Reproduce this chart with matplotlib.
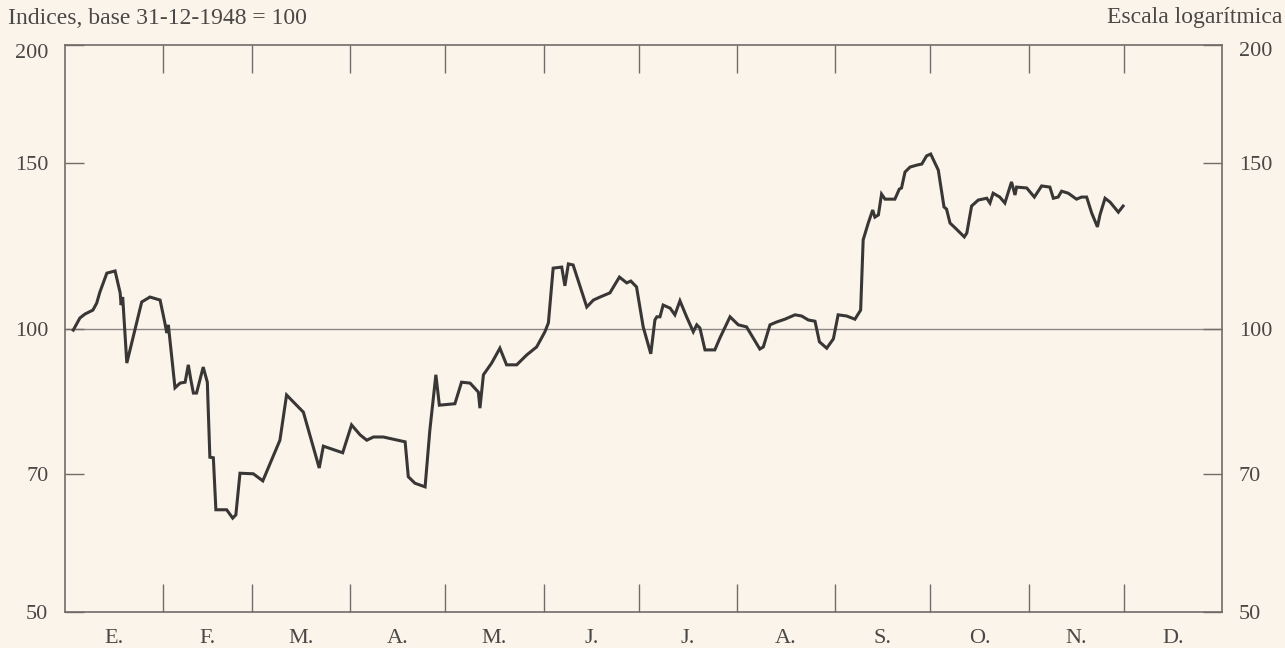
import matplotlib
matplotlib.use("Agg")
import matplotlib.pyplot as plt
from matplotlib.ticker import FixedLocator, NullLocator, NullFormatter, FixedFormatter

# ---- data (day of year 1949, index base 31-12-1948 = 100) ----
day = [2.6, 4.7, 6.3, 8.8, 10.0, 11.0, 13.2, 15.8, 17.4, 17.7, 18.2, 19.5, 24.2, 26.8,
       30.0, 31.5, 32.1, 32.6, 34.7, 36.3, 37.9, 38.9, 39.7, 40.5, 41.5, 43.6, 44.9,
       45.7, 46.8, 47.6, 51.0, 52.9, 53.9, 55.2, 59.4, 62.4, 67.8, 69.9, 75.2, 80.2,
       81.5, 87.6, 90.4, 93.1, 95.2, 97.3, 100.4, 107.3, 108.3, 110.4, 113.6, 115.1,
       117.0, 118.1, 123.0, 125.1, 127.8, 130.4, 130.9, 132.0, 134.6, 137.2, 139.3,
       142.5, 145.6, 148.8, 151.4, 152.5, 154.0, 156.7, 157.7, 158.8, 160.3, 164.6,
       166.7, 168.8, 171.9, 174.9, 177.2, 178.5, 180.3, 182.4, 184.8, 186.1, 186.7,
       187.7, 188.7, 190.9, 192.4, 194.0, 196.1, 198.2, 199.3, 200.3, 201.9, 205.0,
       206.6, 209.8, 212.4, 215.0, 219.2, 220.3, 222.4, 224.5, 227.1, 230.3, 232.4,
       234.5, 236.6, 238.0, 240.3, 242.4, 243.9, 246.6, 249.2, 251.0, 251.8, 253.4,
       254.8, 255.5, 256.6, 257.6, 258.7, 261.8, 263.2, 263.9, 265.0, 266.6, 268.7,
       270.3, 271.8, 273.1, 275.5, 277.3, 278.1, 279.2, 280.8, 283.7, 284.5, 286.0,
       288.1, 290.8, 291.8, 292.8, 294.9, 296.5, 298.6, 299.7, 300.2, 303.4, 305.8,
       308.1, 310.7, 311.8, 313.3, 314.4, 316.5, 319.1, 320.7, 322.3, 323.9, 325.7,
       326.5, 328.1, 329.7, 330.7, 332.3, 333.8]
index_value = [99.6, 102.6, 103.6, 104.6, 106.4, 109.3, 114.5, 115.1, 109.1, 105.9, 108.0,
               91.9, 106.7, 108.0, 107.2, 101.4, 98.9, 100.9, 86.5, 87.5, 87.7, 91.5, 88.2,
               85.4, 85.4, 91.0, 87.7, 73.0, 72.9, 64.2, 64.2, 62.9, 63.4, 70.2, 70.1, 68.9,
               76.1, 85.0, 81.5, 71.1, 75.0, 73.8, 79.0, 77.1, 76.1, 76.7, 76.7, 75.8, 69.6,
               68.5, 67.9, 78.0, 89.3, 82.9, 83.2, 87.7, 87.5, 85.6, 82.3, 89.3, 91.9, 95.3,
               91.5, 91.5, 93.7, 95.6, 99.2, 101.4, 115.9, 116.2, 111.0, 117.1, 116.8, 105.4,
               107.2, 108.0, 109.1, 113.4, 111.8, 112.3, 110.7, 100.4, 94.0, 102.1, 102.9,
               102.9, 105.9, 105.1, 103.4, 107.0, 102.9, 99.2, 100.9, 100.1, 94.9, 94.9,
               97.7, 102.9, 100.9, 100.4, 95.1, 95.6, 100.9, 101.6, 102.3, 103.4, 103.1,
               102.1, 101.8, 96.8, 95.3, 97.5, 103.4, 103.1, 102.3, 104.6, 124.2, 129.4,
               133.6, 131.3, 132.0, 138.9, 137.2, 137.2, 140.6, 141.0, 146.6, 148.4, 149.1,
               149.5, 152.5, 153.2, 147.3, 134.6, 133.9, 129.4, 127.9, 125.1, 126.3, 134.9,
               136.9, 137.5, 135.9, 139.2, 137.9, 135.9, 143.1, 138.6, 141.3, 141.0, 137.9,
               141.7, 141.3, 137.5, 137.9, 139.9, 139.2, 137.2, 137.9, 137.9, 132.6, 128.2,
               132.0, 137.5, 136.2, 134.9, 132.9, 134.9]

month_ends = [31, 59, 90, 120, 151, 181, 212, 243, 273, 304, 334]
month_starts = [0, 31, 59, 90, 120, 151, 181, 212, 243, 273, 304, 334]
month_lengths = [31, 28, 31, 30, 31, 30, 31, 31, 30, 31, 30, 31]
month_labels = ["E.", "F.", "M.", "A.", "M.", "J.", "J.", "A.", "S.", "O.", "N.", "D."]
y_ticks = [50, 70, 100, 150, 200]
y_labels = ["50", "70", "100", "150", ""]
top_label = "200"
title_left = "Indices, base 31-12-1948 = 100"
title_right = "Escala logarítmica"

BG = "#fbf4ea"
INK = "#383736"
GRID = "#8a8784"
TXT = "#4a4846"

plt.rcParams['font.family'] = ['Liberation Serif', 'DejaVu Serif']

fig = plt.figure(figsize=(12.85, 6.48), dpi=100, facecolor=BG)
ax = fig.add_axes([65 / 1285, 1 - 612 / 648, (1222 - 65) / 1285, (612 - 45) / 648])
ax.set_facecolor(BG)

ax.set_yscale('log')
ax.set_ylim(50, 200)
ax.set_xlim(0, 365)

ax.axhline(100, color=GRID, lw=1.0, zorder=1)
ax.plot(day, index_value, color=INK, lw=2.2, solid_joinstyle='miter', zorder=3)

for s in ax.spines.values():
    s.set_color("#6f6c69")
    s.set_linewidth(1.2)

# y axis
ax.yaxis.set_major_locator(FixedLocator(y_ticks))
ax.yaxis.set_major_formatter(FixedFormatter(y_labels))
ax.yaxis.set_minor_locator(NullLocator())
ax.yaxis.set_minor_formatter(NullFormatter())
ax.tick_params(axis='y', which='major', direction='in', length=14, width=1.0,
               color="#6f6c69", left=True, right=True, labelleft=True, labelright=True,
               labelsize=16, labelcolor=TXT, pad=12)

# "200" labels sit slightly below the top edge in the original
ax.text(-17 / 1157, 1.0 - 9 / 567, top_label, transform=ax.transAxes, ha='right', va='center',
        fontsize=16, color=TXT)
ax.text(1.0 + 17 / 1157, 1.0 - 7 / 567, top_label, transform=ax.transAxes, ha='left', va='center',
        fontsize=16, color=TXT)

# x axis: month boundary ticks, labels at month centers
month_centers = [s + l / 2 for s, l in zip(month_starts, month_lengths)]
ax.xaxis.set_major_locator(FixedLocator(month_ends))
ax.xaxis.set_major_formatter(NullFormatter())
ax.xaxis.set_minor_locator(FixedLocator(month_centers))
ax.xaxis.set_minor_formatter(FixedFormatter(month_labels))
ax.tick_params(axis='x', which='major', direction='in', length=20, width=1.0,
               color="#6f6c69", top=True, bottom=True)
ax.tick_params(axis='x', which='minor', length=0, labelsize=16, labelcolor=TXT, pad=12)

fig.text(8 / 1285, 1 - 18 / 648, title_left, ha='left', va='center', fontsize=17, color=TXT)
fig.text(1282 / 1285, 1 - 18 / 648, title_right, ha='right', va='center', fontsize=17, color=TXT)

fig.savefig("out.png", dpi=100, facecolor=BG)
